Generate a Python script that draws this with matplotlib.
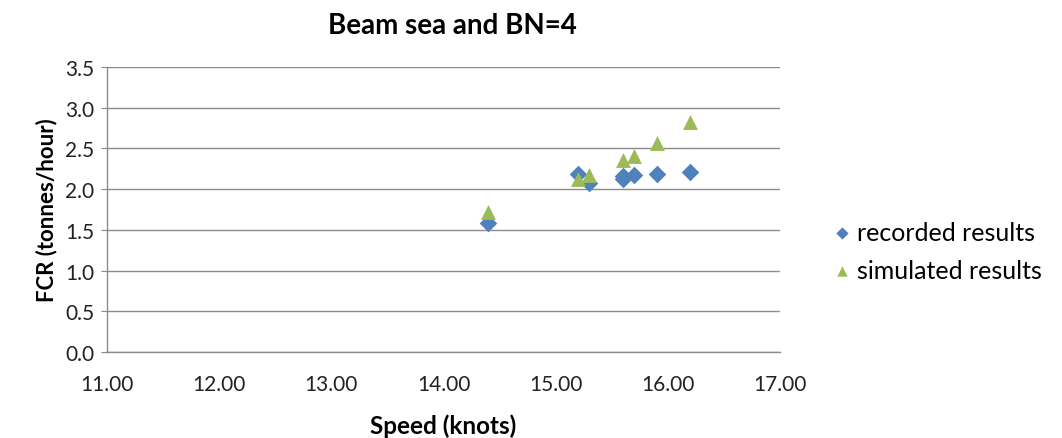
import matplotlib.pyplot as plt

# speed (knots) and fuel consumption rate (tonnes/hour)
recorded_speed = [14.4, 15.2, 15.3, 15.6, 15.6, 15.7, 15.9, 16.2]
recorded_fcr = [1.58, 2.19, 2.08, 2.16, 2.12, 2.17, 2.18, 2.21]
simulated_speed = [14.4, 15.2, 15.3, 15.6, 15.7, 15.9, 16.2]
simulated_fcr = [1.72, 2.12, 2.17, 2.36, 2.41, 2.57, 2.82]

x_ticks = [11, 12, 13, 14, 15, 16, 17]
y_ticks = [0.0, 0.5, 1.0, 1.5, 2.0, 2.5, 3.0, 3.5]

plt.rcParams['font.family'] = ['Lato', 'DejaVu Sans']

fig = plt.figure(figsize=(10.62, 4.39), dpi=100)
ax = fig.add_axes([0.1008, 0.1959, 0.6337, 0.6492])

ax.scatter(recorded_speed, recorded_fcr, marker='D', s=80, color='#4F81BD',
           label='recorded results', zorder=3, linewidths=0)
ax.scatter(simulated_speed, simulated_fcr, marker='^', s=115, color='#9BBB59',
           label='simulated results', zorder=3, linewidths=0)

ax.set_xlim(11, 17)
ax.set_ylim(0, 3.5)
ax.set_xticks(x_ticks)
ax.set_xticklabels([f'{v:.2f}' for v in x_ticks])
ax.set_yticks(y_ticks)
ax.set_yticklabels([f'{v:.1f}' for v in y_ticks])
ax.tick_params(labelsize=15, colors='#222222', length=4, color='#888888')
ax.tick_params(axis='x', pad=16, length=0)
ax.tick_params(axis='y', pad=5)

ax.yaxis.grid(True, color='#8c8c8c', linewidth=1)
ax.set_axisbelow(True)
for side in ['top', 'right']:
    ax.spines[side].set_visible(False)
for side in ['left', 'bottom']:
    ax.spines[side].set_color('#8c8c8c')
    ax.spines[side].set_linewidth(1)

ax.set_xlabel('Speed (knots)', fontsize=17.5, fontweight='bold', labelpad=14)
ax.set_ylabel('FCR (tonnes/hour)', fontsize=16, fontweight='bold', labelpad=6)
fig.text(0.426, 0.94, 'Beam sea and BN=4', ha='center', va='center',
         fontsize=20, fontweight='bold')

ax.legend(loc='center left', bbox_to_anchor=(1.045, 0.354), frameon=False,
          fontsize=18, handletextpad=0.25, labelspacing=0.6, handlelength=0.7,
          markerscale=0.7)

fig.savefig('out.png', dpi=100)
